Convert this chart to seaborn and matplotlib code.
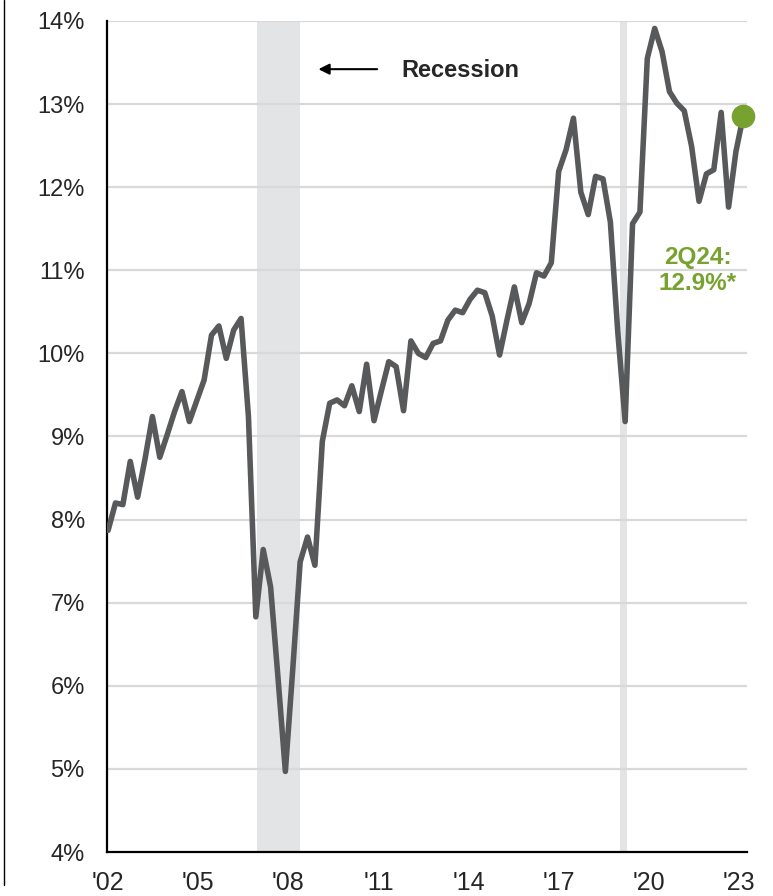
import numpy as np
import pandas as pd
import seaborn as sns
from matplotlib import pyplot as plt
from matplotlib.lines import Line2D

sns.set_style("white")
plt.rcParams['font.family'] = ['Liberation Sans', 'DejaVu Sans']

# quarterly profit margin, 4Q02 .. 2Q24 (%)
margin = [
    7.87, 8.20, 8.18, 8.70, 8.27, 8.73, 9.24, 8.75, 9.02, 9.30,
    9.54, 9.18, 9.43, 9.68, 10.22, 10.33, 9.94, 10.28, 10.42, 9.24,
    6.83, 7.64, 7.19, 6.10, 4.97, 6.20, 7.49, 7.79, 7.45, 8.94,
    9.40, 9.44, 9.37, 9.61, 9.30, 9.87, 9.19, 9.55, 9.90, 9.84,
    9.31, 10.15, 10.00, 9.95, 10.12, 10.15, 10.40, 10.52, 10.49, 10.65,
    10.76, 10.73, 10.45, 9.98, 10.40, 10.80, 10.37, 10.60, 10.97, 10.93,
    11.09, 12.19, 12.45, 12.83, 11.94, 11.67, 12.13, 12.10, 11.58, 10.26,
    9.18, 11.56, 11.70, 13.55, 13.91, 13.63, 13.15, 13.01, 12.92, 12.49,
    11.83, 12.16, 12.21, 12.90, 11.76, 12.43, 12.86,
]
quarter = list(range(len(margin)))

year_labels = ["'02", "'05", "'08", "'11", "'14", "'17", "'20", "'23"]
y_ticks = [4, 5, 6, 7, 8, 9, 10, 11, 12, 13, 14]
y_labels = [f'{v}%' for v in y_ticks]

# recession spans in quarter index units
recessions = [(20.1, 26.0), (69.3, 70.2)]

last_label = '2Q24:\n12.9%*'

LINE = '#58595b'
GREEN = '#77a22f'
GRID = '#d9d9d9'

df = pd.DataFrame({'quarter': quarter, 'margin': margin})

fig = plt.figure(figsize=(7.73, 8.96), dpi=100)
ax = fig.add_axes([0.1384, 0.0491, 0.828, 0.9275])

for start, end in recessions:
    ax.axvspan(start, end, color='#e3e4e6', lw=0, zorder=0)

for v in y_ticks[1:]:
    ax.axhline(v, color=GRID, lw=1.6, zorder=0.5)

sns.lineplot(data=df, x='quarter', y='margin', color=LINE, lw=4.0, ax=ax, zorder=3)
ax.plot(quarter[-1], margin[-1], 'o', color=GREEN, ms=16, clip_on=False, zorder=4)

ax.set_xlim(-0.15, 86.5)
ax.set_ylim(4, 14)
ax.set_xticks(np.arange(len(year_labels)) * 12.2)
ax.set_xticklabels(year_labels)
ax.set_yticks(y_ticks)
ax.set_yticklabels(y_labels)
ax.set_xlabel('')
ax.set_ylabel('')

for side in ['top', 'right']:
    ax.spines[side].set_visible(False)
for side in ['left', 'bottom']:
    ax.spines[side].set_color('black')
    ax.spines[side].set_linewidth(1.6)

ax.tick_params(axis='y', length=0, pad=16, labelsize=17)
ax.tick_params(axis='x', direction='out', length=7, width=1.3, color='black',
               pad=7, labelsize=18)

# recession legend
ax.annotate('', xy=(28.1, 13.42), xytext=(36.8, 13.42),
            arrowprops=dict(arrowstyle='-|>', color='black', lw=1.5,
                            mutation_scale=16))
ax.text(39.7, 13.40, 'Recession', fontsize=17, fontweight='bold',
        ha='left', va='center')

ax.text(79.8, 11.0, last_label, color=GREEN, fontsize=17.5, fontweight='bold',
        ha='center', va='center', linespacing=1.15)

fig.add_artist(Line2D([0.0055, 0.0055], [0.012, 1.0], color='black', lw=1.0))

plt.savefig('out.png', dpi=100)
plt.close()
